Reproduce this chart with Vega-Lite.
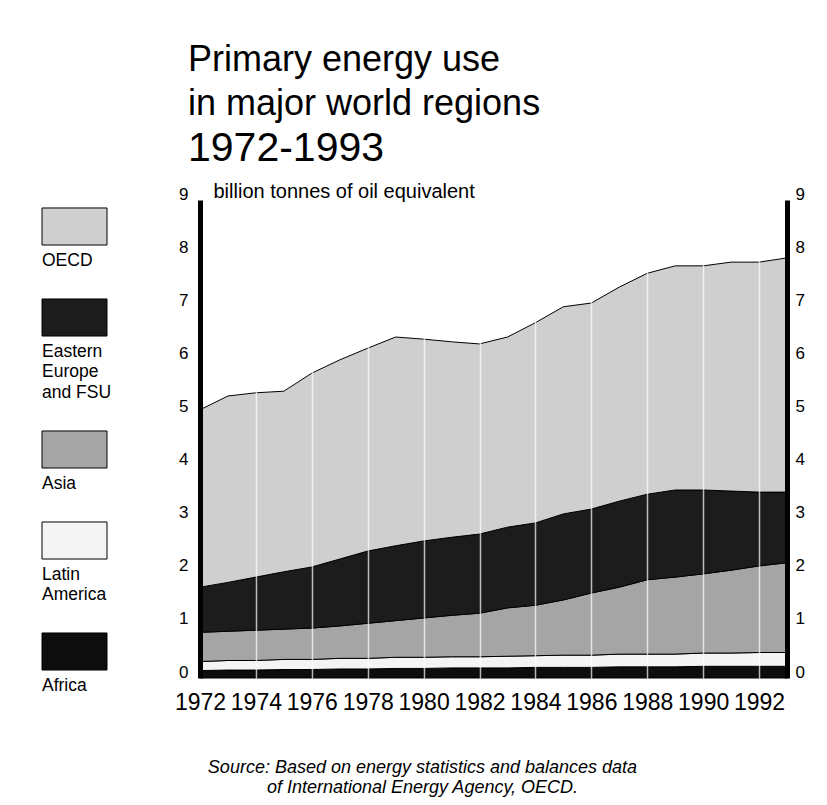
{
  "$schema": "https://vega.github.io/schema/vega-lite/v6.json",
  "width": 587,
  "height": 478,
  "autosize": {"type": "none"},
  "padding": {"left": 200, "top": 200, "right": 40, "bottom": 127},
  "background": "white",
  "config": {"font": "Liberation Sans", "view": {"stroke": null}},
  "title": {
    "text": ["Primary energy use", "in major world regions"],
    "subtitle": "1972-1993",
    "orient": "top",
    "anchor": "start",
    "frame": "group",
    "dx": -12,
    "offset": 11,
    "font": "Liberation Sans",
    "fontSize": 36,
    "fontWeight": "normal",
    "color": "black",
    "lineHeight": 44,
    "subtitleFont": "Liberation Sans",
    "subtitleFontSize": 41,
    "subtitleColor": "black",
    "subtitlePadding": 6
  },
  "data": {
    "values": [
      {"year": 1972, "region": "Africa", "value": 0.14}, {"year": 1972, "region": "Latin America", "value": 0.17}, {"year": 1972, "region": "Asia", "value": 0.55}, {"year": 1972, "region": "Eastern Europe and FSU", "value": 0.85}, {"year": 1972, "region": "OECD", "value": 3.34},
      {"year": 1973, "region": "Africa", "value": 0.15}, {"year": 1973, "region": "Latin America", "value": 0.18}, {"year": 1973, "region": "Asia", "value": 0.55}, {"year": 1973, "region": "Eastern Europe and FSU", "value": 0.92}, {"year": 1973, "region": "OECD", "value": 3.51},
      {"year": 1974, "region": "Africa", "value": 0.15}, {"year": 1974, "region": "Latin America", "value": 0.18}, {"year": 1974, "region": "Asia", "value": 0.57}, {"year": 1974, "region": "Eastern Europe and FSU", "value": 1.00}, {"year": 1974, "region": "OECD", "value": 3.47},
      {"year": 1975, "region": "Africa", "value": 0.16}, {"year": 1975, "region": "Latin America", "value": 0.19}, {"year": 1975, "region": "Asia", "value": 0.57}, {"year": 1975, "region": "Eastern Europe and FSU", "value": 1.08}, {"year": 1975, "region": "OECD", "value": 3.40},
      {"year": 1976, "region": "Africa", "value": 0.16}, {"year": 1976, "region": "Latin America", "value": 0.19}, {"year": 1976, "region": "Asia", "value": 0.59}, {"year": 1976, "region": "Eastern Europe and FSU", "value": 1.15}, {"year": 1976, "region": "OECD", "value": 3.65},
      {"year": 1977, "region": "Africa", "value": 0.17}, {"year": 1977, "region": "Latin America", "value": 0.20}, {"year": 1977, "region": "Asia", "value": 0.61}, {"year": 1977, "region": "Eastern Europe and FSU", "value": 1.26}, {"year": 1977, "region": "OECD", "value": 3.75},
      {"year": 1978, "region": "Africa", "value": 0.17}, {"year": 1978, "region": "Latin America", "value": 0.20}, {"year": 1978, "region": "Asia", "value": 0.66}, {"year": 1978, "region": "Eastern Europe and FSU", "value": 1.36}, {"year": 1978, "region": "OECD", "value": 3.82},
      {"year": 1979, "region": "Africa", "value": 0.18}, {"year": 1979, "region": "Latin America", "value": 0.21}, {"year": 1979, "region": "Asia", "value": 0.69}, {"year": 1979, "region": "Eastern Europe and FSU", "value": 1.41}, {"year": 1979, "region": "OECD", "value": 3.93},
      {"year": 1980, "region": "Africa", "value": 0.18}, {"year": 1980, "region": "Latin America", "value": 0.21}, {"year": 1980, "region": "Asia", "value": 0.74}, {"year": 1980, "region": "Eastern Europe and FSU", "value": 1.45}, {"year": 1980, "region": "OECD", "value": 3.80},
      {"year": 1981, "region": "Africa", "value": 0.19}, {"year": 1981, "region": "Latin America", "value": 0.21}, {"year": 1981, "region": "Asia", "value": 0.78}, {"year": 1981, "region": "Eastern Europe and FSU", "value": 1.47}, {"year": 1981, "region": "OECD", "value": 3.68},
      {"year": 1982, "region": "Africa", "value": 0.19}, {"year": 1982, "region": "Latin America", "value": 0.21}, {"year": 1982, "region": "Asia", "value": 0.82}, {"year": 1982, "region": "Eastern Europe and FSU", "value": 1.49}, {"year": 1982, "region": "OECD", "value": 3.58},
      {"year": 1983, "region": "Africa", "value": 0.19}, {"year": 1983, "region": "Latin America", "value": 0.22}, {"year": 1983, "region": "Asia", "value": 0.91}, {"year": 1983, "region": "Eastern Europe and FSU", "value": 1.52}, {"year": 1983, "region": "OECD", "value": 3.58},
      {"year": 1984, "region": "Africa", "value": 0.20}, {"year": 1984, "region": "Latin America", "value": 0.22}, {"year": 1984, "region": "Asia", "value": 0.95}, {"year": 1984, "region": "Eastern Europe and FSU", "value": 1.55}, {"year": 1984, "region": "OECD", "value": 3.77},
      {"year": 1985, "region": "Africa", "value": 0.20}, {"year": 1985, "region": "Latin America", "value": 0.23}, {"year": 1985, "region": "Asia", "value": 1.04}, {"year": 1985, "region": "Eastern Europe and FSU", "value": 1.62}, {"year": 1985, "region": "OECD", "value": 3.90},
      {"year": 1986, "region": "Africa", "value": 0.20}, {"year": 1986, "region": "Latin America", "value": 0.23}, {"year": 1986, "region": "Asia", "value": 1.17}, {"year": 1986, "region": "Eastern Europe and FSU", "value": 1.58}, {"year": 1986, "region": "OECD", "value": 3.88},
      {"year": 1987, "region": "Africa", "value": 0.21}, {"year": 1987, "region": "Latin America", "value": 0.24}, {"year": 1987, "region": "Asia", "value": 1.26}, {"year": 1987, "region": "Eastern Europe and FSU", "value": 1.62}, {"year": 1987, "region": "OECD", "value": 4.03},
      {"year": 1988, "region": "Africa", "value": 0.21}, {"year": 1988, "region": "Latin America", "value": 0.24}, {"year": 1988, "region": "Asia", "value": 1.40}, {"year": 1988, "region": "Eastern Europe and FSU", "value": 1.61}, {"year": 1988, "region": "OECD", "value": 4.16},
      {"year": 1989, "region": "Africa", "value": 0.21}, {"year": 1989, "region": "Latin America", "value": 0.24}, {"year": 1989, "region": "Asia", "value": 1.45}, {"year": 1989, "region": "Eastern Europe and FSU", "value": 1.64}, {"year": 1989, "region": "OECD", "value": 4.22},
      {"year": 1990, "region": "Africa", "value": 0.22}, {"year": 1990, "region": "Latin America", "value": 0.25}, {"year": 1990, "region": "Asia", "value": 1.49}, {"year": 1990, "region": "Eastern Europe and FSU", "value": 1.58}, {"year": 1990, "region": "OECD", "value": 4.22},
      {"year": 1991, "region": "Africa", "value": 0.22}, {"year": 1991, "region": "Latin America", "value": 0.25}, {"year": 1991, "region": "Asia", "value": 1.56}, {"year": 1991, "region": "Eastern Europe and FSU", "value": 1.49}, {"year": 1991, "region": "OECD", "value": 4.31},
      {"year": 1992, "region": "Africa", "value": 0.22}, {"year": 1992, "region": "Latin America", "value": 0.26}, {"year": 1992, "region": "Asia", "value": 1.63}, {"year": 1992, "region": "Eastern Europe and FSU", "value": 1.39}, {"year": 1992, "region": "OECD", "value": 4.33},
      {"year": 1993, "region": "Africa", "value": 0.22}, {"year": 1993, "region": "Latin America", "value": 0.26}, {"year": 1993, "region": "Asia", "value": 1.69}, {"year": 1993, "region": "Eastern Europe and FSU", "value": 1.33}, {"year": 1993, "region": "OECD", "value": 4.41}
    ]
  },
  "transform": [
    {"joinaggregate": [{"op": "mean", "field": "value", "as": "meanValue"}], "groupby": ["region"]}
  ],
  "encoding": {
    "x": {
      "field": "year",
      "type": "quantitative",
      "scale": {"domain": [1972, 1993], "nice": false, "zero": false},
      "axis": {
        "values": [1972, 1974, 1976, 1978, 1980, 1982, 1984, 1986, 1988, 1990, 1992],
        "format": "d",
        "domain": false,
        "ticks": false,
        "tickSize": 0,
        "labelFontSize": 23,
        "labelColor": "black",
        "labelPadding": 13,
        "labelFlush": false,
        "labelOverlap": false,
        "grid": true,
        "gridColor": "white",
        "gridWidth": 1.5,
        "gridOpacity": 0.7,
        "zindex": 1,
        "title": ["Source: Based on energy statistics and balances data", "of International Energy Agency, OECD."],
        "titleFontStyle": "italic",
        "titleFontWeight": "normal",
        "titleFontSize": 18,
        "titleColor": "black",
        "titleX": 222,
        "titleY": 94,
        "titleAlign": "center",
        "titleBaseline": "alphabetic",
        "titleLineHeight": 20
      }
    },
    "order": {"field": "meanValue", "type": "quantitative", "sort": "ascending"},
    "color": {
      "field": "region",
      "type": "nominal",
      "scale": {
        "domain": ["OECD", "Eastern Europe and FSU", "Asia", "Latin America", "Africa"],
        "range": ["#cfcfcf", "#1c1c1c", "#a5a5a5", "#f4f4f4", "#0d0d0d"]
      },
      "legend": {
        "orient": "none",
        "legendX": -158,
        "legendY": 26.5,
        "title": null,
        "direction": "vertical",
        "padding": 0,
        "rowPadding": 27,
        "symbolType": "M-1,-0.57H1V0.57H-1Z",
        "symbolSize": 4225,
        "symbolStrokeColor": "black",
        "symbolStrokeWidth": 1,
        "symbolOpacity": 1,
        "labelFont": "Liberation Sans",
        "labelFontSize": 17.5,
        "labelColor": "black",
        "labelLimit": 0,
        "labelExpr": "datum.label == 'Eastern Europe and FSU' ? ['Eastern', 'Europe', 'and FSU'] : datum.label == 'Latin America' ? ['Latin', 'America'] : datum.label",
        "encode": {
          "symbols": {"update": {"x": {"value": 32.5}, "y": {"value": 0}}},
          "labels": {"update": {"x": {"value": 0}, "y": {"value": 25}, "align": {"value": "left"}, "baseline": {"value": "top"}, "lineHeight": {"value": 20.5}}}
        }
      }
    }
  },
  "layer": [
    {
      "mark": {"type": "area", "stroke": "black", "strokeWidth": 1, "interpolate": "linear"},
      "encoding": {
        "y": {
          "field": "value",
          "type": "quantitative",
          "stack": "zero",
          "scale": {"domain": [0, 9], "nice": false},
          "axis": {
            "orient": "left",
            "values": [0, 1, 2, 3, 4, 5, 6, 7, 8, 9],
            "domainWidth": 5,
            "domainColor": "black",
            "ticks": false,
            "tickSize": 0,
            "labelFontSize": 17,
            "labelColor": "black",
            "labelPadding": 12,
            "labelOffset": -6,
            "labelFlush": false,
            "labelOverlap": false,
            "grid": false,
            "zindex": 2,
            "title": "billion tonnes of oil equivalent",
            "titleAngle": 0,
            "titleAlign": "left",
            "titleBaseline": "alphabetic",
            "titleX": 13,
            "titleY": -3,
            "titleFontSize": 20,
            "titleFontWeight": "normal",
            "titleColor": "black"
          }
        }
      }
    },
    {
      "mark": {"type": "area", "opacity": 0},
      "encoding": {
        "y": {
          "field": "value",
          "type": "quantitative",
          "stack": "zero",
          "scale": {"domain": [0, 9], "nice": false},
          "axis": {
            "orient": "right",
            "values": [0, 1, 2, 3, 4, 5, 6, 7, 8, 9],
            "domainWidth": 5,
            "domainColor": "black",
            "ticks": false,
            "tickSize": 0,
            "labelFontSize": 17,
            "labelColor": "black",
            "labelPadding": 8,
            "labelOffset": -6,
            "labelFlush": false,
            "labelOverlap": false,
            "grid": false,
            "zindex": 2,
            "title": null
          }
        }
      }
    }
  ],
  "resolve": {"axis": {"y": "independent"}}
}
